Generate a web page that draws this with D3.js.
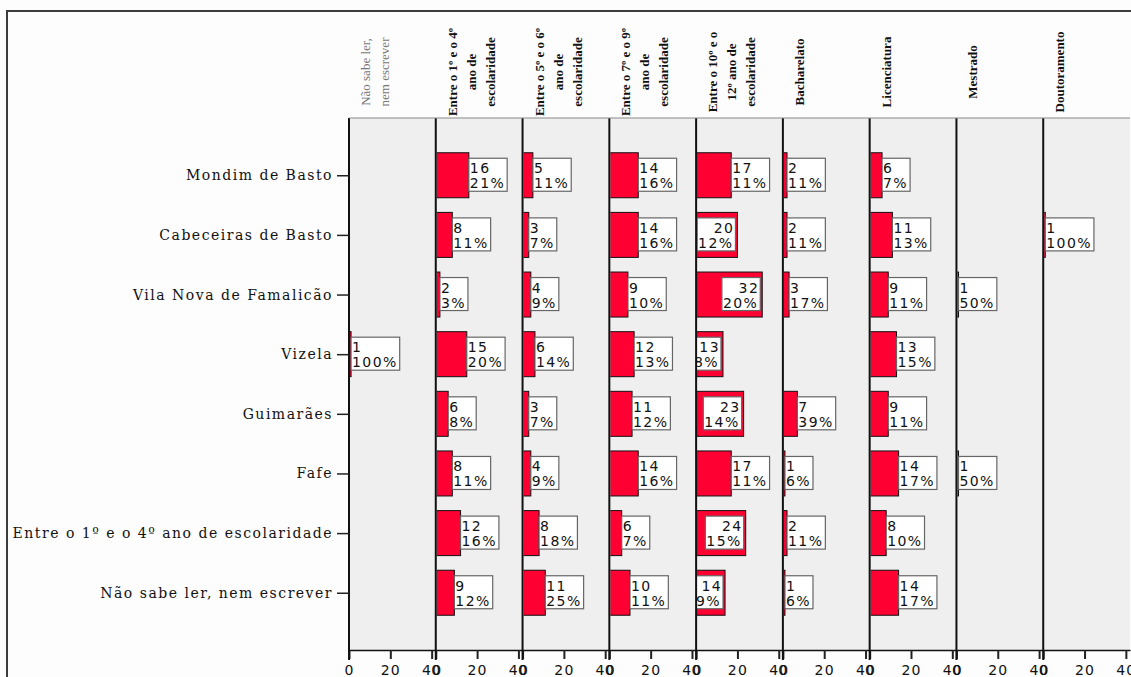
<!DOCTYPE html>
<html>
<head>
<meta charset="utf-8">
<script src="https://cdn.jsdelivr.net/npm/d3@7"></script>
<style>
  body { margin: 0; background: #fdfdfd; }
  svg { display: block; }
</style>
</head>
<body>
<div id="chart"></div>
<script>
// rows of the table (municipality / parent education)
const rows = ["Mondim de Basto", "Cabeceiras de Basto", "Vila Nova de Famalicão", "Vizela",
              "Guimarães", "Fafe", "Entre o 1º e o 4º ano de escolaridade", "Não sabe ler, nem escrever"];

// panel headers, one entry per panel, split in lines
const columns = [
  ["Não sabe ler,", "nem escrever"],
  ["Entre o 1º e o 4º", "ano de", "escolaridade"],
  ["Entre o 5º e o 6º", "ano de", "escolaridade"],
  ["Entre o 7º e o 9º", "ano de", "escolaridade"],
  ["Entre o 10º e o", "12º ano de", "escolaridade"],
  ["Bacharelato"],
  ["Licenciatura"],
  ["Mestrado"],
  ["Doutoramento"]
];

// counts[col][row], null = no bar
const counts = [
  [null, null, null, 1, null, null, null, null],
  [16, 8, 2, 15, 6, 8, 12, 9],
  [5, 3, 4, 6, 3, 4, 8, 11],
  [14, 14, 9, 12, 11, 14, 6, 10],
  [17, 20, 32, 13, 23, 17, 24, 14],
  [2, 2, 3, null, 7, 1, 2, 1],
  [6, 11, 9, 13, 9, 14, 8, 14],
  [null, null, 1, null, null, 1, null, null],
  [null, 1, null, null, null, null, null, null]
];
const percents = [
  [null, null, null, 100, null, null, null, null],
  [21, 11, 3, 20, 8, 11, 16, 12],
  [11, 7, 9, 14, 7, 9, 18, 25],
  [16, 16, 10, 13, 12, 16, 7, 11],
  [11, 12, 20, 8, 14, 11, 15, 9],
  [11, 11, 17, null, 39, 6, 11, 6],
  [7, 13, 11, 15, 11, 17, 10, 17],
  [null, null, 50, null, null, 50, null, null],
  [null, 100, null, null, null, null, null, null]
];
// cells whose label sits inside the bar end: [col, row]
const insideLabels = [[4, 1], [4, 2], [4, 3], [4, 4], [4, 6], [4, 7]];

const xTicks = [0, 20, 40];

const width = 1131, height = 677;
const plotTop = 118, plotBottom = 650, plotLeft = 349, plotRight = 1130;
const barH = 45;

const svg = d3.select("#chart").append("svg")
    .attr("width", width)
    .attr("height", height);

// outer frame (top and left edges)
svg.append("line").attr("x1", 7).attr("x2", width).attr("y1", 11).attr("y2", 11)
    .attr("stroke", "#3c3c3c").attr("stroke-width", 2);
svg.append("line").attr("x1", 7).attr("x2", 7).attr("y1", 10).attr("y2", height)
    .attr("stroke", "#3c3c3c").attr("stroke-width", 2);

const col = d3.scaleBand().domain(d3.range(columns.length)).range([plotLeft, plotRight]);
const x = d3.scaleLinear().domain([0, 42]).range([0, col.bandwidth()]);
const y = d3.scalePoint().domain(rows).range([plotTop, plotBottom]).padding(0.96);

const isInside = (c, r) => insideLabels.some(d => d[0] == c && d[1] == r);

columns.forEach((header, c) => {
    const left = col(c);
    const g = svg.append("g").attr("transform", `translate(${left},0)`);

    g.append("rect")
        .attr("x", 0).attr("y", plotTop)
        .attr("width", col.bandwidth()).attr("height", plotBottom - plotTop)
        .attr("fill", "#efefef");

    const clipId = "clip" + c;
    svg.append("clipPath").attr("id", clipId)
        .append("rect")
        .attr("x", 1).attr("y", plotTop)
        .attr("width", col.bandwidth() - 1).attr("height", plotBottom - plotTop);

    const inner = g.append("g").attr("clip-path", `url(#${clipId})`);

    const cells = rows.map((r, i) => ({ row: r, i, n: counts[c][i], p: percents[c][i] }))
        .filter(d => d.n != null);

    inner.selectAll("rect.bar")
        .data(cells)
        .join("rect")
        .attr("class", "bar")
        .attr("x", x(0))
        .attr("y", d => y(d.row) - barH / 2)
        .attr("width", d => x(d.n))
        .attr("height", barH)
        .attr("fill", "#ff0033")
        .attr("stroke", "#111")
        .attr("stroke-width", 1);

    // value labels: count over percentage in a white box
    cells.forEach(d => {
        const cy = y(d.row);
        const lab = inner.append("g");
        const t1 = lab.append("text").text(d.n);
        const t2 = lab.append("text").text(d.p + "%");
        lab.selectAll("text")
            .attr("font-family", "DejaVu Sans, sans-serif")
            .attr("font-size", 14)
            .attr("letter-spacing", 1.4)
            .attr("fill", "#111");
        const w = Math.max(t1.node().getComputedTextLength(), t2.node().getComputedTextLength()) + 3;
        const end = x(d.n);
        const inside = isInside(c, d.i);
        const bx = inside ? end - w - 2 : end;
        lab.insert("rect", ":first-child")
            .attr("x", bx).attr("y", cy - 17)
            .attr("width", w).attr("height", 33)
            .attr("fill", "#fff")
            .attr("stroke", "#666")
            .attr("stroke-width", 1.2);
        if (inside) {
            t1.attr("x", bx + w - 1).attr("text-anchor", "end").attr("y", cy - 2);
        } else {
            t1.attr("x", bx + 1).attr("y", cy - 2);
        }
        t2.attr("x", bx + 1).attr("y", cy + 13);
    });

    // x axis
    const ax = svg.append("g")
        .attr("transform", `translate(${left},${plotBottom})`)
        .call(d3.axisBottom(x).tickValues(xTicks).tickSize(9).tickSizeOuter(0).tickPadding(6));
    ax.select(".domain").attr("stroke", "#111").attr("stroke-width", 1.5);
    ax.selectAll(".tick line").attr("stroke", "#222").attr("stroke-width", 2);
    ax.selectAll(".tick text")
        .attr("font-family", "DejaVu Sans, sans-serif")
        .attr("font-size", 14)
        .attr("letter-spacing", 1.2)
        .attr("fill", "#111");

    // panel divider
    svg.append("line")
        .attr("x1", left).attr("x2", left)
        .attr("y1", plotTop).attr("y2", plotBottom + 10)
        .attr("stroke", "#111").attr("stroke-width", 2);

    // rotated header
    const ht = svg.append("text")
        .attr("transform", `translate(${left + 21},72) rotate(-90)`)
        .attr("text-anchor", "middle")
        .attr("font-family", "Liberation Serif, serif")
        .attr("font-size", 13)
        .attr("font-weight", c == 0 ? "normal" : "bold")
        .attr("fill", c == 0 ? "#777" : "#111");
    ht.selectAll("tspan")
        .data(header)
        .join("tspan")
        .attr("x", 0)
        .attr("y", (d, i) => i * 19)
        .text(d => d);
});

// plot top border
svg.append("line")
    .attr("x1", plotLeft).attr("x2", plotRight)
    .attr("y1", plotTop).attr("y2", plotTop)
    .attr("stroke", "#888").attr("stroke-width", 1);

// row axis
const ay = svg.append("g")
    .attr("transform", `translate(${plotLeft},0)`)
    .call(d3.axisLeft(y).tickSize(12).tickSizeOuter(0).tickPadding(4));
ay.select(".domain").remove();
ay.selectAll(".tick line").attr("stroke", "#222").attr("stroke-width", 1.5);
ay.selectAll(".tick text")
    .attr("font-family", "DejaVu Serif, serif")
    .attr("font-size", 14)
    .attr("letter-spacing", 1.5)
    .attr("fill", "#111");
</script>
</body>
</html>
